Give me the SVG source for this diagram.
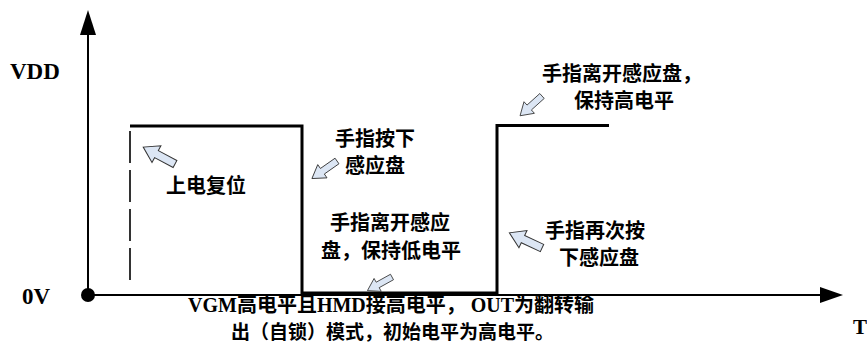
<svg xmlns="http://www.w3.org/2000/svg" width="867" height="351" viewBox="0 0 867 351">
<style>
.ax{fill:none;stroke:#000;stroke-width:2}
.wave{fill:none;stroke:#000;stroke-width:3;stroke-linejoin:miter}
.dash{fill:none;stroke:#000;stroke-width:1.6;stroke-dasharray:32 7}
.lat{font-family:"Liberation Serif","Times New Roman",serif;font-weight:bold;fill:#000}
.cn{font-family:"Noto Sans CJK SC","Noto Sans",sans-serif;font-weight:bold;font-size:20px;fill:#000}
.mix{font-family:"Liberation Serif","Noto Sans CJK SC",serif;font-weight:bold;font-size:20px;fill:#000}
.blk{fill:#dce6f4;stroke:#333;stroke-width:1;stroke-linejoin:miter}
</style>
<defs>
<path id="barrow" class="blk" d="M0,-4 L21,-4 L21,-9.5 L36,0 L21,9.5 L21,4 L0,4 Z"/>
</defs>
<g id="axes">
<line class="ax" x1="88" y1="295" x2="88" y2="30"/>
<polygon points="88,10 80,35 96,35" fill="#000"/>
<line class="ax" x1="88" y1="295" x2="824" y2="295"/>
<polygon points="843,295 820,287 820,303" fill="#000"/>
<circle cx="88" cy="295" r="7" fill="#000"/>
</g>
<g id="labels-axes">
<text class="lat" x="10" y="79" font-size="23">VDD</text>
<text class="lat" x="22" y="304" font-size="23">0V</text>
<text class="lat" x="853" y="334" font-size="21">T</text>
</g>
<g id="waveform">
<path class="wave" d="M130,126 H302 V293 H497 V125.5 H609"/>
<line class="dash" x1="130" y1="131" x2="130" y2="287"/>
</g>
<g id="connectors">
<use href="#barrow" transform="translate(175,164) rotate(-152)"/>
<use href="#barrow" transform="translate(337,161) rotate(145) scale(0.85)"/>
<use href="#barrow" transform="translate(392,277) rotate(151) scale(0.78)"/>
<use href="#barrow" transform="translate(542,96) rotate(138) scale(0.82)"/>
<use href="#barrow" transform="translate(542,248) rotate(-155)"/>
</g>
<g id="n-reset"><text class="cn" x="166" y="193">上电复位</text></g>
<g id="n-press1">
<text class="cn" x="375" y="146" text-anchor="middle">手指按下</text>
<text class="cn" x="375" y="173" text-anchor="middle">感应盘</text>
</g>
<g id="n-low">
<text class="cn" x="390" y="230" text-anchor="middle">手指离开感应</text>
<text class="cn" x="391" y="258" text-anchor="middle">盘，保持低电平</text>
</g>
<g id="n-high">
<text class="cn" x="542" y="81">手指离开感应盘，</text>
<text class="cn" x="574" y="108">保持高电平</text>
</g>
<g id="n-press2">
<text class="cn" x="545" y="238">手指再次按</text>
<text class="cn" x="559" y="265">下感应盘</text>
</g>
<g id="n-note">
<text class="mix" x="188" y="312">VGM高电平且HMD接高电平， OUT为翻转输</text>
<text class="cn" x="231" y="339" style="font-size:19px">出（自锁）模式，初始电平为高电平。</text>
</g>
</svg>
